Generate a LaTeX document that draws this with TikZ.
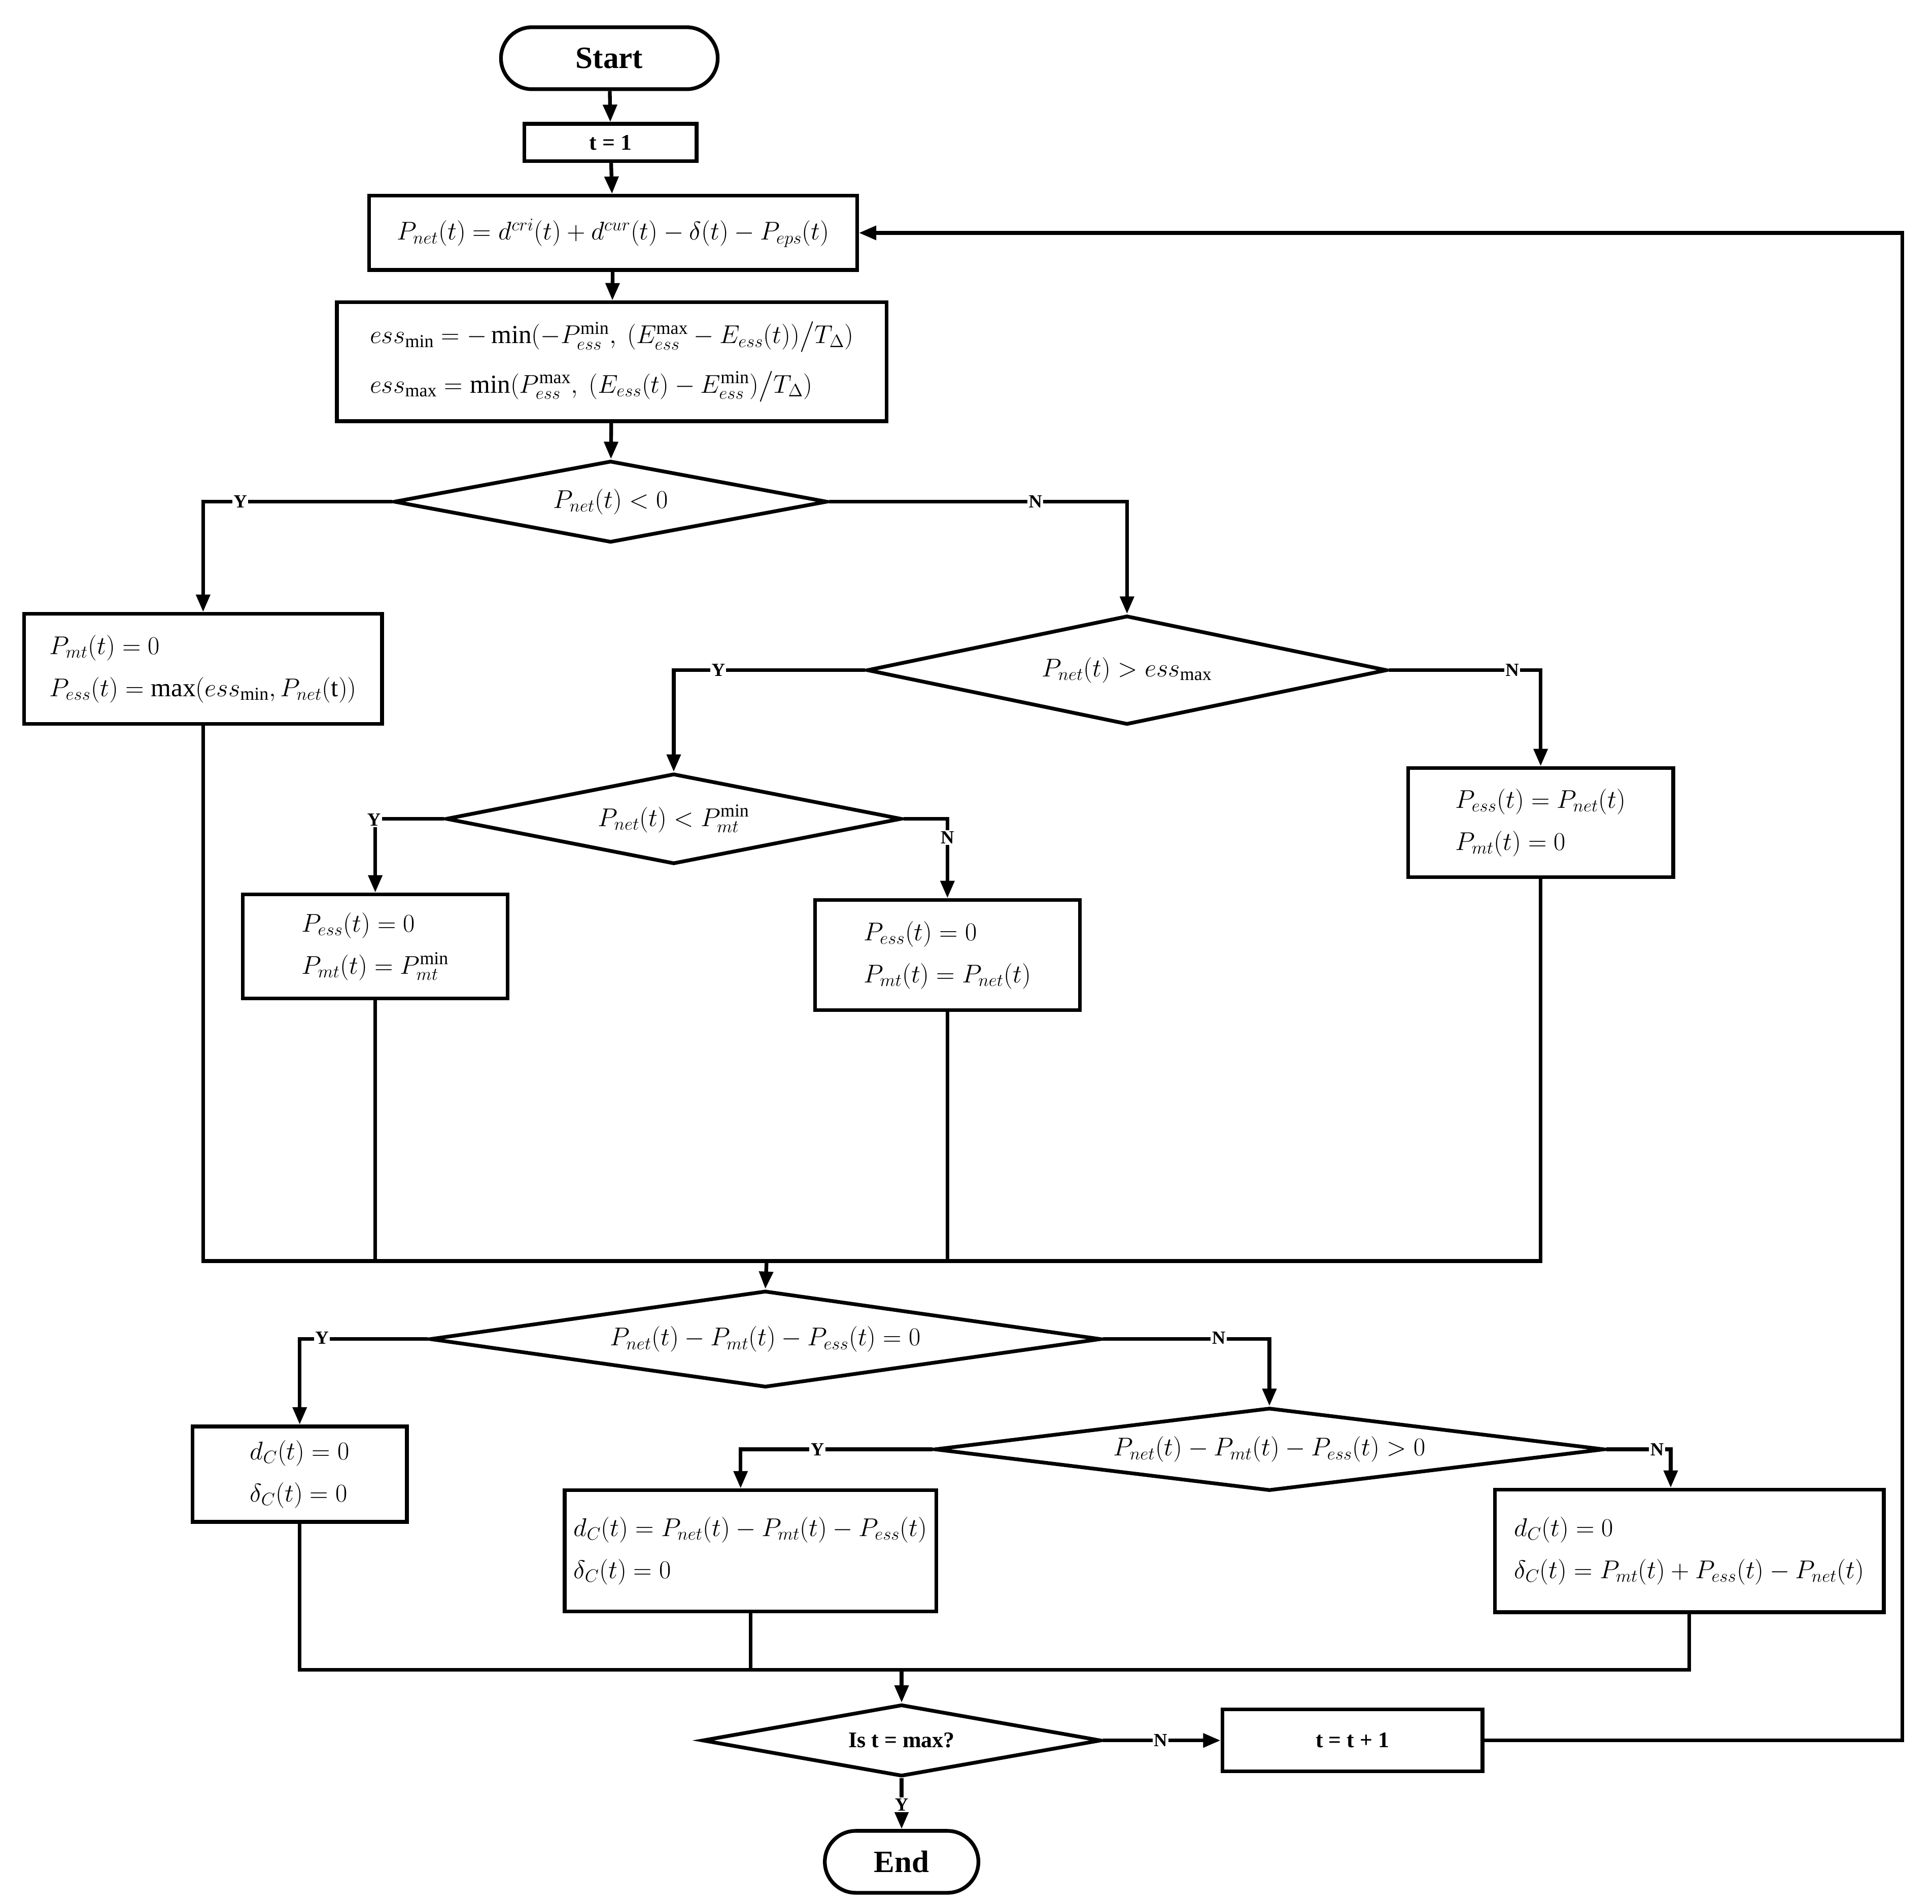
\documentclass[tikz,border=0pt]{standalone}
\usepackage{amsmath}
\usepackage{fontspec}
\setmainfont{Liberation Serif}
\usetikzlibrary{shapes.geometric,arrows.meta}
\begin{document}
\begin{tikzpicture}[x=1pt,y=-1pt,line width=3pt,
 font=\fontsize{21}{30}\selectfont,
 box/.style={draw,rectangle,inner sep=0pt,align=left},
 term/.style={draw,rounded corners=25pt,inner sep=0pt,font=\fontsize{25}{30}\selectfont\bfseries},
 dia/.style={draw,diamond,inner sep=0pt},
 lab/.style={font=\fontsize{15}{18}\selectfont\bfseries,fill=white,inner sep=1pt},
 arr/.style={-{Triangle[length=14pt,width=11pt]}}]
\useasboundingbox (0,0) rectangle (1560,1537);
\node[term,minimum width=175pt,minimum height=50pt] (start) at (492,47) {Start};
\node[box,minimum width=139pt,minimum height=30pt,font=\fontsize{18}{22}\selectfont\bfseries] (t1) at (493,115) {t = 1};
\node[box,minimum width=394pt,minimum height=60pt] (pnet) at (495,188) {$P_{net}(t)=d^{cri}(t)+d^{cur}(t)-\delta(t)-P_{eps}(t)$};
\node[box,minimum width=444pt,minimum height=96pt] (ess) at (494,292) {$ess_{\min}=-\min(-P_{ess}^{\min},\ (E_{ess}^{\max}-E_{ess}(t))\big/T_\Delta)$\\[10pt]$ess_{\max}=\min(P_{ess}^{\max},\ (E_{ess}(t)-E_{ess}^{\min})\big/T_\Delta)$};
\node[dia,minimum width=350pt,minimum height=66pt,aspect=5.3] (d1) at (493,405) {$P_{net}(t)<0$};
\node[box,minimum width=289pt,minimum height=89pt] (b1) at (164,540) {$P_{mt}(t)=0$\\[4pt]$P_{ess}(t)=\max(ess_{\min},P_{net}(\mathrm{t}))$};
\node[dia,minimum width=420pt,minimum height=88pt,aspect=4.77] (d2) at (910,541) {$P_{net}(t)>ess_{\max}$};
\node[dia,minimum width=368pt,minimum height=73pt,aspect=5.04] (d3) at (544,661) {$P_{net}(t)<P_{mt}^{\min}$};
\node[box,minimum width=214pt,minimum height=88pt] (b2) at (1244,664) {$P_{ess}(t)=P_{net}(t)$\\[4pt]$P_{mt}(t)=0$};
\node[box,minimum width=214pt,minimum height=84pt] (b3) at (303,764) {$P_{ess}(t)=0$\\[4pt]$P_{mt}(t)=P_{mt}^{\min}$};
\node[box,minimum width=214pt,minimum height=89pt] (b4) at (765,771) {$P_{ess}(t)=0$\\[4pt]$P_{mt}(t)=P_{net}(t)$};
\coordinate (m1) at (619,1018);
\node[dia,minimum width=542pt,minimum height=78pt,aspect=6.95] (d4) at (618,1081) {$P_{net}(t)-P_{mt}(t)-P_{ess}(t)=0$};
\node[box,minimum width=173pt,minimum height=77pt] (b5) at (242,1190) {$d_C(t)=0$\\[4pt]$\delta_C(t)=0$};
\node[dia,minimum width=541pt,minimum height=67pt,aspect=8.07] (d5) at (1025,1170) {$P_{net}(t)-P_{mt}(t)-P_{ess}(t)>0$};
\node[box,minimum width=300pt,minimum height=98pt] (b6) at (606,1252) {$d_C(t)=P_{net}(t)-P_{mt}(t)-P_{ess}(t)$\\[4pt]$\delta_C(t)=0$};
\node[box,minimum width=314pt,minimum height=99pt] (b7) at (1364,1252) {$d_C(t)=0$\\[4pt]$\delta_C(t)=P_{mt}(t)+P_{ess}(t)-P_{net}(t)$};
\node[dia,minimum width=322pt,minimum height=58pt,aspect=5.55,font=\fontsize{18}{22}\selectfont\bfseries] (d6) at (728,1405) {Is t = max?};
\node[box,minimum width=210pt,minimum height=50pt,font=\fontsize{18}{22}\selectfont\bfseries] (tt) at (1092,1405) {t = t + 1};
\node[term,minimum width=124pt,minimum height=50pt] (end) at (728,1503) {End};
\draw[arr] (start) -- (t1);
\draw[arr] (t1) -- (pnet);
\draw[arr] (pnet) -- (ess);
\draw[arr] (ess) -- (d1);
\draw[arr] (d1.west) -| (b1.north);
\draw[arr] (d1.east) -| (d2.north);
\draw[arr] (d2.west) -| (d3.north);
\draw[arr] (d2.east) -| (b2.north);
\draw[arr] (d3.west) -| (b3.north);
\draw[arr] (d3.east) -| (b4.north);
\draw (b1.south) |- (b2.south |- m1) -- (b2.south);
\draw (b3.south) -- (b3.south |- m1);
\draw (b4.south) -- (b4.south |- m1);
\draw[arr] (m1) -- (d4.north);
\draw[arr] (d4.west) -| (b5.north);
\draw[arr] (d4.east) -| (d5.north);
\draw[arr] (d5.west) -| ([xshift=-8pt]b6.north);
\draw[arr] (d5.east) -| ([xshift=-15pt]b7.north);
\coordinate (m2) at (728,1348);
\draw (b5.south) |- (m2);
\draw (b6.south) -- (b6.south |- m2);
\draw[arr] (b7.south) |- (m2) -- (d6.north);
\draw[arr] (d6.east) -- (tt.west);
\draw[arr] (d6.south) -- (end.north);
\draw[arr] (tt.east) -- (1536,1405) -- (1536,188) -- (pnet.east);
\node[lab] (y1) at (194,405) {Y};
\node[lab] (n1) at (836,405) {N};
\node[lab] (y2) at (580,541) {Y};
\node[lab] (n2) at (1221,541) {N};
\node[lab] (y3) at (302,662) {Y};
\node[lab] (n3) at (765,676) {N};
\node[lab] (y4) at (260,1080) {Y};
\node[lab] (n4) at (984,1080) {N};
\node[lab] (y5) at (660,1170) {Y};
\node[lab] (n5) at (1338,1170) {N};
\node[lab] (n6) at (937,1405) {N};
\node[lab] (y6) at (728,1457) {Y};
\end{tikzpicture}
\end{document}
